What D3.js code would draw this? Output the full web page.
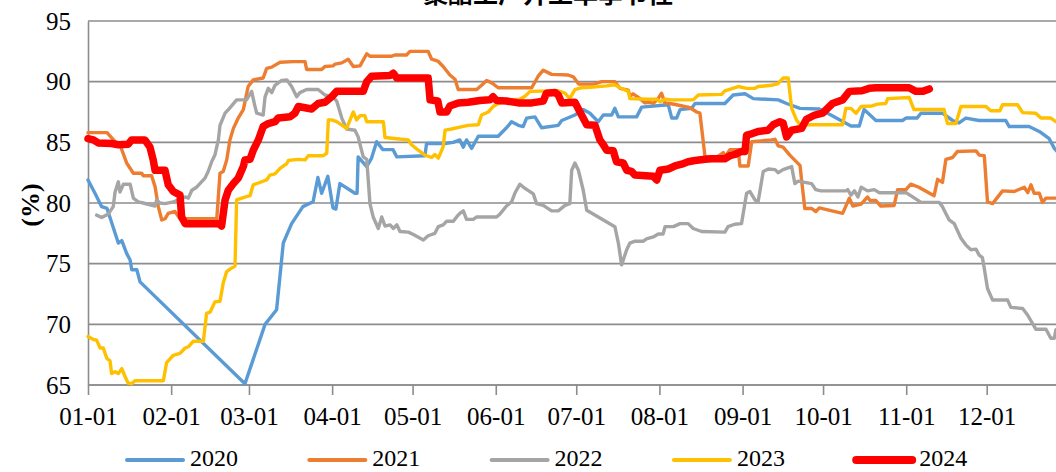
<!DOCTYPE html>
<html><head><meta charset="utf-8">
<script src="https://cdn.jsdelivr.net/npm/d3@7/dist/d3.min.js"></script>
<style>html,body{margin:0;padding:0;background:#fff;overflow:hidden}</style>
</head><body><svg id="chart" width="1056" height="472" font-family="Liberation Serif"></svg>
<script>
const titleText = "聚酯工厂开工率季节性";
const yLabel = "(%)";
const yTicks = [65, 70, 75, 80, 85, 90, 95];
const monthTickDays = [0, 31, 60, 91, 121, 152, 182, 213, 244, 274, 305, 335];
const monthTickLabels = ["01-01","02-01","03-01","04-01","05-01","06-01","07-01","08-01","09-01","10-01","11-01","12-01"];
const seriesNames = ["2020", "2021", "2022", "2023", "2024"];
const seriesColors = ["#5B9BD5", "#ED7D31", "#A5A5A5", "#FFC000", "#FF0000"];

// [day of year, value %]
const s2020 = [[0,81.9],[2.6,80.8],[5.1,79.7],[7.1,79.55],[11.3,76.7],[12.6,76.9],[14.4,75.85],[15.7,75.3],[16.3,74.5],[18.2,74.5],[19.4,73.5],[58.5,65.1],[66,70.0],[70.3,71.2],[72.8,76.7],[75.9,78.3],[80.1,79.7],[83.9,80.1],[85.7,82.1],[87.1,80.8],[89.4,82.2],[91.3,79.6],[92.4,79.5],[93.9,81.6],[99.5,80.8],[100.3,80.8],[100.7,83.8],[103.9,83.0],[105.7,83.7],[107.6,85.05],[109.9,84.4],[113.7,84.4],[115.1,83.8],[125.6,83.9],[126.2,84.9],[133.1,84.9],[136.1,85.0],[138.6,85.2],[139.9,84.6],[141.1,85.2],[143.0,84.5],[145.5,85.5],[152.9,85.5],[156.0,86.2],[157.9,86.7],[160.4,86.4],[162.2,86.3],[163.5,87.0],[166.6,87.1],[169.1,86.2],[175.3,86.4],[176.6,86.8],[181.5,87.25],[184.6,87.7],[187.1,87.4],[190.2,86.7],[192.1,87.25],[195.2,87.25],[196.4,87.8],[197.7,87.1],[204.5,87.1],[206.4,87.9],[216.3,88.1],[217.6,87.0],[219.4,87.0],[220.7,87.7],[225.0,87.8],[226.3,88.2],[237.4,88.2],[240.5,88.9],[244.9,89.0],[248.0,88.6],[257.3,88.5],[260.4,88.2],[265.4,87.8],[272.6,87.75],[276.9,87.25],[284.4,86.35],[287.5,86.35],[289.3,87.7],[293.7,86.8],[303.6,86.8],[304.9,87.0],[309.0,87.0],[310.5,87.4],[318.5,87.4],[322.3,86.8],[324.7,86.6],[327.2,87.0],[332.2,86.8],[342.1,86.8],[343.4,86.3],[350.8,86.3],[354.6,85.9],[358.3,85.3],[360.2,84.5],[362.3,84.0]];

const s2021 = [[0,85.8],[7.1,85.8],[10.1,85.05],[11.9,84.8],[14.4,83.3],[16.9,82.45],[20.0,82.45],[20.6,82.25],[23.7,82.25],[25.0,81.35],[26.2,79.7],[27.5,78.6],[28.7,78.7],[29.9,79.15],[32.4,79.3],[34.3,78.7],[48.0,78.7],[49.2,82.45],[50.4,82.6],[51.7,83.55],[52.9,85.2],[54.2,86.15],[56.0,87.0],[57.9,87.7],[59.7,89.6],[61.6,90.15],[65.3,90.3],[66.6,91.1],[68.5,91.2],[71.6,91.6],[76.5,91.65],[80.9,91.65],[81.5,91.0],[87.1,91.0],[88.3,91.25],[91.4,91.3],[92.1,91.45],[94.6,91.55],[97.0,91.85],[98.9,91.25],[101.4,91.3],[103.9,92.3],[105.1,92.1],[113.2,92.1],[114.4,92.2],[118.8,92.2],[120.0,92.5],[126.8,92.5],[128.1,91.85],[130.4,91.7],[132.4,91.25],[134.9,90.55],[136.8,90.2],[138.0,89.35],[144.9,89.35],[146.7,89.7],[148.6,90.1],[150.5,89.9],[152.9,89.5],[165.4,89.5],[167.8,90.45],[169.7,90.95],[172.8,90.6],[179.0,90.55],[180.9,90.4],[182.9,89.8],[188.5,89.8],[191.5,90.0],[196.4,90.0],[198.3,89.45],[201.4,89.3],[202.0,88.8],[203.2,89.0],[205.8,88.6],[207.6,88.25],[209.5,88.3],[210.7,88.2],[212.5,88.6],[213.8,89.05],[215.0,88.25],[216.9,88.2],[219.4,88.1],[224.4,87.85],[226.9,87.5],[228.1,87.4],[230.0,83.8],[234.3,83.8],[235.6,83.95],[236.8,84.15],[237.4,83.8],[239.3,84.4],[242.4,84.4],[243.0,83.05],[246.1,83.05],[247.4,85.05],[254.8,85.2],[256.1,85.25],[257.3,84.7],[259.1,84.6],[261.6,83.95],[265.4,83.1],[266.0,81.9],[267.2,79.55],[269.7,79.55],[271.3,79.3],[272.6,79.6],[281.3,79.15],[283.8,80.4],[285.1,79.75],[288.2,79.9],[290.6,80.5],[291.5,80.2],[293.7,80.2],[295.5,79.75],[300.5,79.8],[301.8,81.1],[304.9,81.1],[306.7,81.55],[309.7,81.3],[315.4,80.6],[316.7,81.95],[318.5,81.7],[319.8,83.6],[322.3,83.75],[324.1,84.25],[331.0,84.3],[332.2,83.95],[334.1,83.9],[335.3,80.1],[337.2,79.95],[340.9,81.0],[345.3,80.95],[349.0,81.3],[350.3,80.85],[351.5,81.5],[352.7,80.8],[354.6,80.8],[355.8,80.05],[357.1,80.4],[362.3,80.4]];

const s2022 = [[3.2,79.0],[5.1,78.8],[7.6,79.1],[9.4,79.7],[10.1,80.9],[11.3,81.75],[11.9,80.9],[13.2,81.55],[15.7,81.55],[16.9,80.4],[18.7,80.1],[20.6,80.0],[23.1,79.85],[25.0,79.75],[25.6,80.25],[26.8,80.0],[28.7,79.95],[31.8,80.1],[34.3,80.3],[36.2,80.5],[37.4,80.4],[38.7,81.05],[40.5,81.3],[41.7,81.6],[43.6,82.05],[44.8,82.6],[46.1,83.4],[47.3,83.95],[48.6,85.2],[49.2,86.4],[51.1,87.4],[52.9,87.85],[55.4,88.5],[59.1,88.5],[61.0,89.2],[62.2,88.0],[62.9,87.4],[65.3,87.25],[66.0,88.75],[67.2,89.45],[68.5,89.1],[69.7,89.7],[72.2,90.1],[74.1,90.15],[75.9,89.6],[77.8,88.75],[79.0,89.1],[81.5,89.35],[85.8,89.35],[88.3,88.9],[91.4,88.75],[92.7,88.4],[94.6,87.0],[96.4,86.1],[99.5,86.0],[100.7,85.45],[102.6,83.8],[103.9,83.6],[105.1,79.95],[106.3,78.85],[108.2,77.9],[109.5,78.85],[110.7,78.1],[112.6,78.2],[113.8,77.9],[115.1,78.2],[116.3,77.65],[119.4,77.6],[121.3,77.4],[125.0,76.95],[126.8,77.3],[129.3,77.5],[130.6,78.05],[132.4,78.2],[133.7,78.5],[136.2,78.5],[137.4,78.85],[138.6,79.15],[139.9,79.35],[141.1,78.65],[143.6,78.65],[144.9,78.85],[152.3,78.85],[153.6,79.1],[156.0,79.75],[157.9,80.1],[159.1,80.8],[161.0,81.55],[162.9,81.2],[166.0,80.75],[167.2,79.95],[169.7,79.8],[172.8,79.35],[175.3,79.35],[177.8,79.8],[179.6,79.95],[180.3,82.7],[181.5,83.3],[182.8,82.7],[184.6,81.05],[185.9,79.4],[190.2,78.85],[196.4,78.05],[197.7,76.7],[198.9,74.9],[200.8,76.15],[202.0,76.7],[203.9,76.85],[207.0,76.85],[208.2,77.05],[210.7,77.2],[212.6,77.45],[214.4,77.45],[215.1,78.05],[218.2,78.05],[220.7,78.3],[223.7,78.3],[225.6,77.9],[228.7,77.65],[237.4,77.6],[238.6,78.05],[241.1,78.25],[243.6,78.3],[245.5,80.8],[246.7,80.95],[248.6,80.25],[249.8,80.1],[251.7,82.6],[253.6,82.8],[256.1,82.75],[257.3,82.5],[259.1,82.75],[262.3,83.0],[263.5,81.6],[264.7,81.8],[269.7,81.6],[271.3,81.1],[273.2,81.0],[282.5,81.0],[283.2,81.1],[284.4,80.65],[285.7,81.0],[287.0,80.5],[288.2,81.3],[290.6,81.0],[293.1,81.1],[295.0,80.85],[304.9,80.85],[307.4,80.5],[310.5,80.05],[317.3,80.05],[318.5,79.7],[321.0,78.6],[322.9,78.3],[325.4,77.1],[327.2,76.55],[329.1,76.15],[331.0,76.2],[332.2,75.7],[333.4,75.5],[334.1,74.6],[335.3,72.95],[337.2,72.0],[342.8,72.0],[344.0,71.4],[348.4,71.3],[350.3,70.75],[353.3,69.6],[357.1,69.6],[358.9,68.85],[360.2,68.85],[360.8,69.55],[362.3,69.6]];

const s2023 = [[0,69.0],[2.0,68.75],[3.2,68.7],[4.5,68.05],[5.7,68.05],[7.0,67.2],[8.2,67.0],[8.8,65.95],[10.1,66.1],[11.3,65.95],[12.6,66.35],[13.8,65.7],[15.0,65.15],[16.3,65.1],[17.5,65.35],[28.1,65.35],[29.3,66.85],[31.8,67.45],[34.3,67.6],[36.2,68.05],[37.4,68.15],[39.2,68.6],[43.0,68.6],[44.2,70.9],[45.5,71.0],[47.3,71.85],[49.2,71.9],[50.4,73.4],[51.7,74.35],[52.9,74.55],[54.8,74.8],[55.4,80.25],[57.9,80.45],[60.4,80.6],[61.6,81.5],[63.5,81.65],[66.6,81.9],[67.8,82.3],[69.7,82.4],[71.6,82.85],[74.1,83.25],[74.7,83.5],[76.5,83.55],[78.4,83.6],[80.9,83.55],[82.1,83.9],[87.7,83.9],[89.0,84.1],[89.6,86.85],[90.8,86.85],[92.7,86.7],[96.4,86.15],[98.9,87.5],[100.1,86.85],[101.4,87.2],[103.2,87.2],[103.9,86.7],[110.1,86.7],[110.7,85.4],[115.1,85.3],[119.4,85.2],[120.6,84.8],[123.1,84.35],[125.6,83.95],[128.1,83.75],[129.3,84.0],[130.6,83.7],[132.4,84.65],[133.1,86.0],[135.5,86.1],[138.6,86.25],[141.7,86.4],[145.5,86.45],[146.7,87.25],[149.2,87.5],[151.0,87.95],[152.9,88.2],[157.3,88.5],[161.0,88.55],[162.9,88.8],[164.8,89.2],[175.3,89.25],[177.8,89.05],[179.6,88.6],[181.5,89.35],[184.0,89.5],[188.3,89.55],[193.3,89.65],[196.4,89.75],[198.3,89.5],[201.4,89.2],[202.0,88.6],[208.8,88.55],[212.0,88.55],[213.2,88.35],[215.1,88.55],[217.5,88.5],[225.6,88.5],[227.5,88.9],[236.2,88.95],[237.4,89.25],[242.4,89.6],[245.5,89.45],[248.6,89.45],[249.8,89.6],[254.8,89.7],[257.3,89.85],[259.1,90.3],[261.0,90.3],[262.3,87.8],[264.1,86.85],[265.4,86.45],[281.3,86.45],[282.5,87.8],[284.4,87.8],[286.3,87.4],[288.2,87.95],[292.2,88.0],[294.3,88.15],[297.4,88.2],[298.1,88.6],[306.1,88.7],[307.9,87.7],[319.1,87.7],[320.4,86.55],[323.5,86.55],[325.4,87.95],[334.7,87.95],[336.5,87.6],[339.9,87.6],[340.9,88.1],[346.5,88.1],[348.4,87.45],[353.3,87.4],[355.2,87.0],[358.9,87.0],[360.8,86.7],[362.3,86.7]];

const s2024 = [[0,85.3],[2.0,85.2],[3.8,84.95],[8.8,84.9],[11.3,84.8],[15.0,84.85],[16.3,85.2],[21.2,85.2],[23.1,84.6],[24.3,83.55],[25.0,82.7],[28.7,82.7],[29.9,81.5],[31.8,80.95],[34.3,80.65],[34.9,78.85],[36.2,78.3],[48.6,78.3],[49.8,78.1],[51.1,80.25],[52.3,81.05],[54.2,81.6],[56.0,82.05],[57.9,83.0],[58.5,83.55],[60.4,83.6],[61.6,84.35],[63.5,85.2],[65.3,86.3],[67.2,86.55],[69.7,86.7],[70.9,87.0],[75.3,87.1],[77.1,87.4],[78.4,87.95],[80.9,87.85],[83.4,87.75],[85.8,88.2],[88.3,88.3],[90.8,88.75],[92.7,89.2],[102.6,89.2],[103.9,90.0],[105.7,90.45],[112.6,90.5],[113.8,90.7],[115.1,90.3],[126.8,90.3],[127.5,88.5],[130.4,88.4],[131.2,87.5],[133.7,87.5],[134.9,88.0],[138.0,88.25],[141.7,88.3],[146.1,88.45],[149.8,88.5],[151.0,88.75],[152.3,88.45],[156.0,88.4],[160.4,88.25],[165.4,88.25],[169.7,88.4],[170.9,89.05],[174.1,89.1],[175.3,88.9],[176.6,88.25],[181.5,88.3],[183.4,87.5],[185.9,86.45],[189.0,86.4],[190.8,85.2],[192.1,84.8],[193.3,84.35],[195.8,84.3],[197.0,83.4],[199.5,83.3],[200.8,82.7],[202.6,82.6],[203.9,82.3],[210.7,82.2],[212.0,81.9],[213.2,82.7],[216.3,82.8],[218.8,83.05],[221.3,83.2],[223.7,83.4],[226.3,83.5],[230.0,83.6],[232.4,83.65],[237.4,83.65],[239.3,83.9],[241.1,84.0],[243.6,84.25],[244.9,84.25],[245.5,85.6],[247.4,85.7],[249.8,85.9],[253.5,86.0],[255.4,86.45],[257.9,86.7],[259.1,86.6],[260.4,85.45],[262.3,86.0],[266.0,86.15],[267.8,86.9],[270.9,87.25],[273.8,87.4],[277.5,88.2],[281.3,88.5],[283.8,89.2],[288.5,89.25],[291.2,89.45],[293.7,89.5],[306.1,89.5],[308.6,89.2],[311.1,89.2],[313.6,89.4]];

const allSeries = [s2020, s2021, s2022, s2023, s2024];
const lineWidths = [3.4, 3.4, 3.4, 3.4, 7.5];

const svg = d3.select("#chart");
const x = d3.scaleLinear().domain([0, 335]).range([88, 986.7]);
const y = d3.scaleLinear().domain([65, 95]).range([385, 21]);
const gridColor = "#8c8c8c";
const FONT = "Liberation Serif";

// title (cut at top, as in the reference)
svg.append("text").attr("x", 548).attr("y", 3).attr("text-anchor", "middle")
  .attr("font-family", "Noto Sans CJK SC").attr("font-size", 25).attr("font-weight", "bold")
  .attr("fill", "#000").text(titleText);

// grid
svg.append("g").selectAll("line").data(yTicks).join("line")
  .attr("x1", 88).attr("x2", 1056).attr("y1", d => y(d)).attr("y2", d => y(d))
  .attr("stroke", gridColor).attr("stroke-width", 1.6);

// y axis
const yAxis = d3.axisLeft(y).tickValues(yTicks).tickSize(0).tickPadding(17);
const gy = svg.append("g").attr("transform", "translate(88,0)").call(yAxis);
gy.attr("font-family", FONT).attr("font-size", 25);
gy.select(".domain").attr("stroke", gridColor).attr("stroke-width", 1.6);
gy.selectAll("text").attr("font-family", FONT).attr("font-size", 25).attr("fill", "#000");

// x axis
const xAxis = d3.axisBottom(x).tickValues(monthTickDays).tickFormat((d, i) => monthTickLabels[i]).tickSize(10).tickPadding(12);
const gx = svg.append("g").attr("transform", "translate(0,385)").call(xAxis);
gx.attr("font-family", FONT).attr("font-size", 25);
gx.select(".domain").attr("stroke", gridColor).attr("stroke-width", 1.6).attr("d", "M88,0H1056");
gx.selectAll(".tick line").attr("stroke", gridColor).attr("stroke-width", 1.6);
gx.selectAll("text").attr("font-family", FONT).attr("font-size", 25).attr("fill", "#000");

// y label
svg.append("text").attr("font-family", FONT).attr("transform", "translate(39,205) rotate(-90)").attr("text-anchor", "middle")
  .attr("font-size", 26).attr("font-weight", "bold").text(yLabel);

// lines
const line = d3.line().x(d => x(d[0])).y(d => y(d[1]));
allSeries.forEach((s, i) => {
  svg.append("path").datum(s).attr("d", line).attr("fill", "none")
    .attr("stroke", seriesColors[i]).attr("stroke-width", lineWidths[i])
    .attr("stroke-linejoin", "round").attr("stroke-linecap", "round");
});

// legend
const leg = svg.append("g");
seriesNames.forEach((n, i) => {
  const lx = 127 + i * 182.3;
  leg.append("line").attr("x1", lx).attr("x2", lx + 56).attr("y1", 460).attr("y2", 460)
    .attr("stroke", seriesColors[i]).attr("stroke-width", i === 4 ? 8 : 4).attr("stroke-linecap", "round");
  leg.append("text").attr("font-family", FONT).attr("x", lx + 63).attr("y", 466).attr("font-size", 24)
    .attr("fill", "#000").text(n);
});
</script></body></html>
